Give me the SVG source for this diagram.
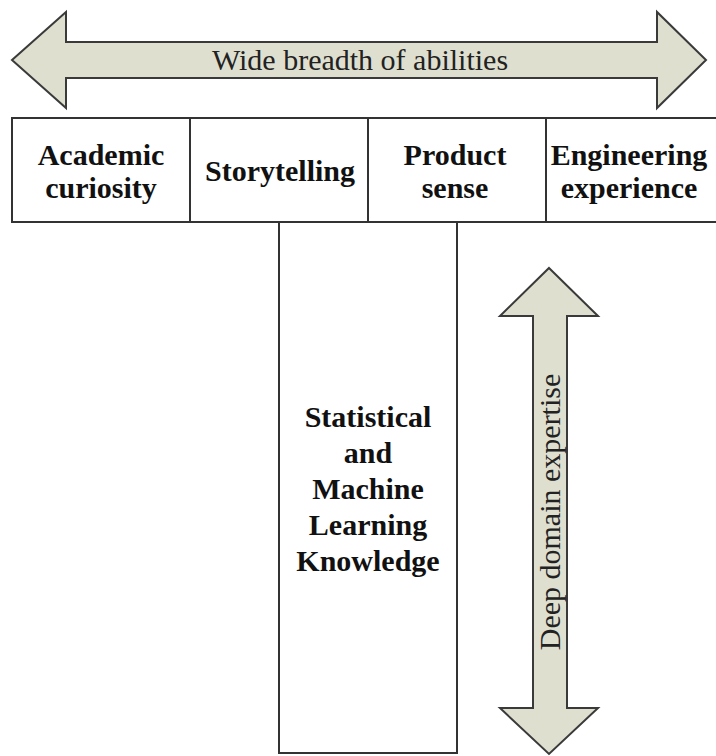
<svg xmlns="http://www.w3.org/2000/svg" width="716" height="756" viewBox="0 0 716 756">
<style>
.arrow{fill:#dfdfd0;stroke:#3a3a3a;stroke-width:2;stroke-linejoin:miter}
.box{fill:#ffffff;stroke:#333333;stroke-width:2}
.lbl{font-family:"Liberation Serif","Times New Roman",serif;font-weight:bold;font-size:30px;fill:#111;text-anchor:middle}
.alb{font-family:"Liberation Serif","Times New Roman",serif;font-size:30px;fill:#222;text-anchor:middle}
</style>
<rect width="716" height="756" fill="#ffffff"/>
<g id="connectors">
<polygon class="arrow" points="12,60 66,12 66,42 657,42 657,12 706,60 657,108 657,78 66,78 66,108"/>
<polygon class="arrow" points="549,268 598,316 567,316 567,708 598,708 549,754 500,708 533,708 533,316 500,316"/>
</g>
<g id="label-breadth"><text class="alb" x="360" y="70">Wide breadth of abilities</text></g>
<g id="label-depth"><text class="alb" transform="translate(560,512) rotate(-90)" x="0" y="0">Deep domain expertise</text></g>
<g id="n-academic"><rect class="box" x="12" y="118" width="178" height="104"/><text class="lbl" x="101" y="165">Academic</text><text class="lbl" x="101" y="198">curiosity</text></g>
<g id="n-story"><rect class="box" x="190" y="118" width="178" height="104"/><text class="lbl" x="280" y="181">Storytelling</text></g>
<g id="n-product"><rect class="box" x="368" y="118" width="178" height="104"/><text class="lbl" x="455" y="165">Product</text><text class="lbl" x="455" y="198">sense</text></g>
<g id="n-engineering"><rect class="box" x="546" y="118" width="172" height="104"/><text class="lbl" x="629" y="165">Engineering</text><text class="lbl" x="629" y="198">experience</text></g>
<g id="n-stats"><rect class="box" x="279" y="222" width="178" height="531"/>
<text class="lbl" x="368" y="427">Statistical</text>
<text class="lbl" x="368" y="463">and</text>
<text class="lbl" x="368" y="499">Machine</text>
<text class="lbl" x="368" y="535">Learning</text>
<text class="lbl" x="368" y="571">Knowledge</text></g>
</svg>
